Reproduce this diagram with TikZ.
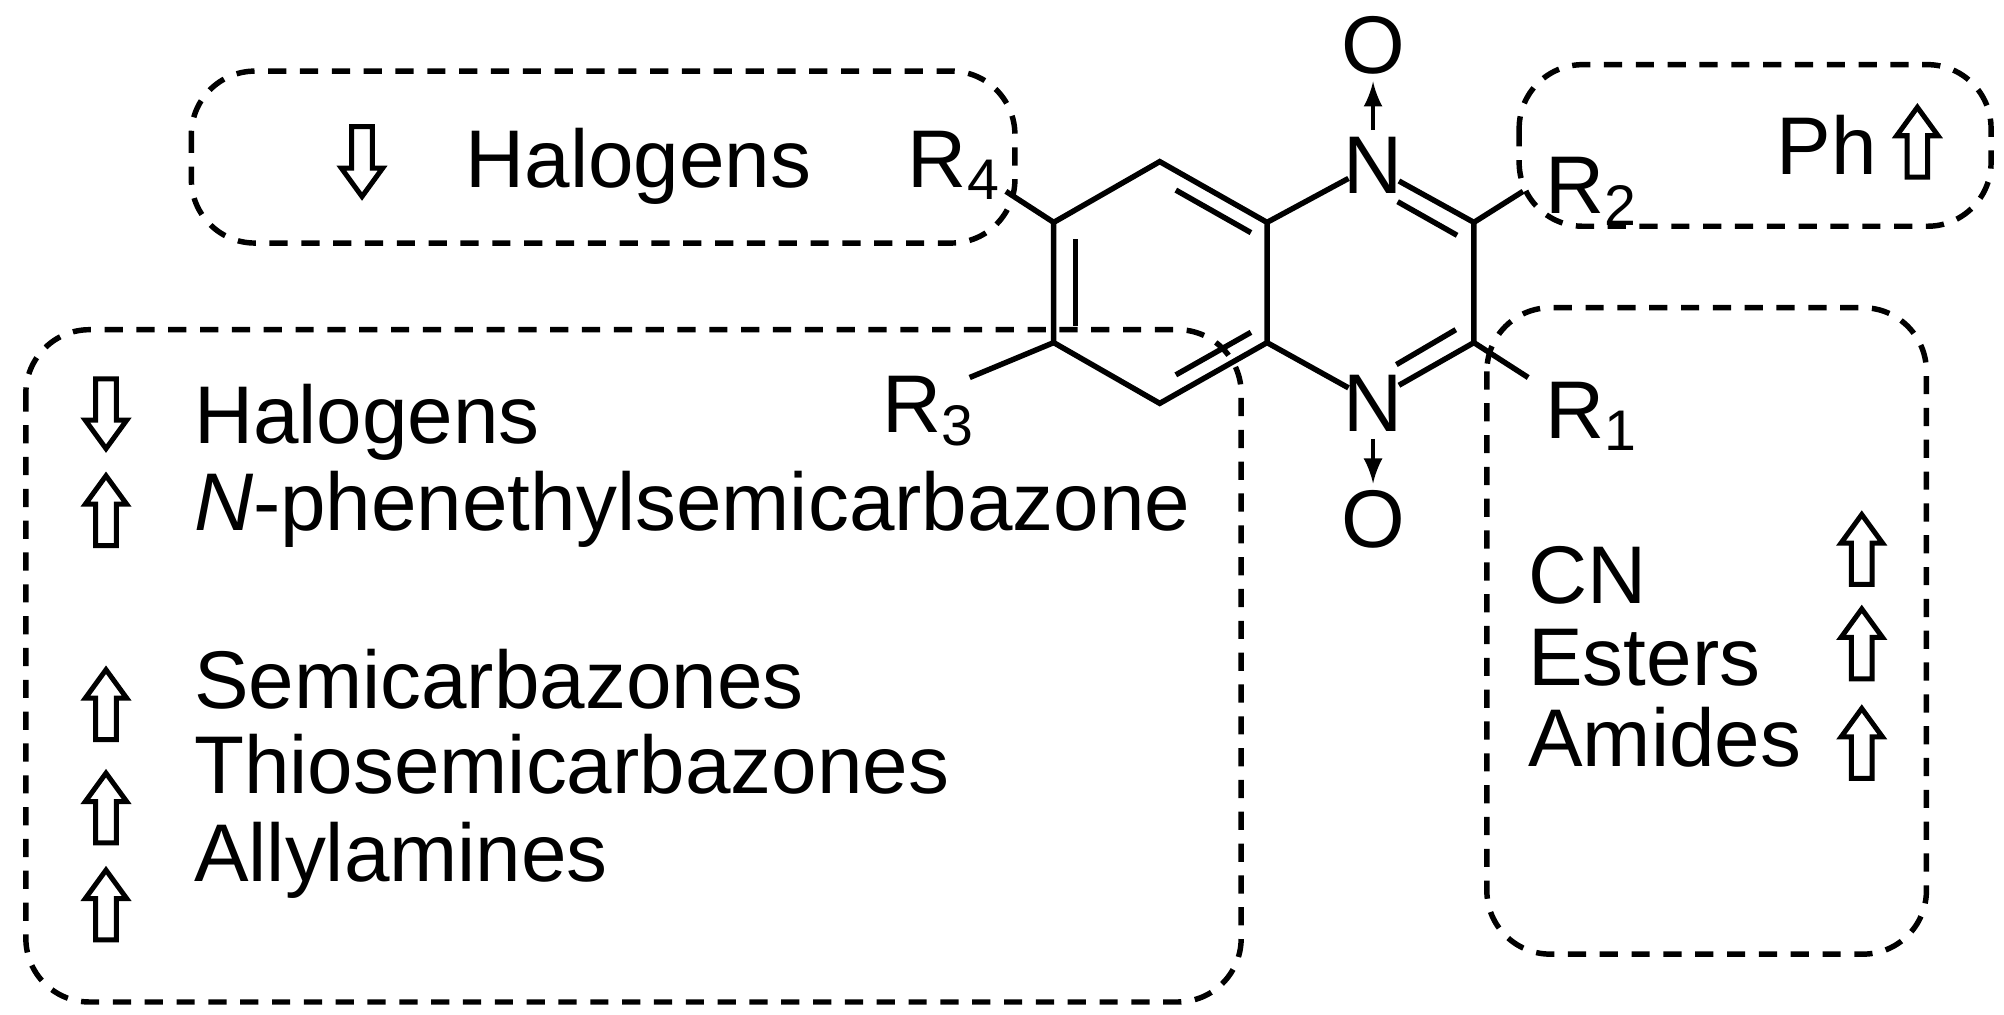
\documentclass[tikz,border=0pt]{standalone}
\usepackage{fontspec}
\setmainfont{Liberation Sans}
\usetikzlibrary{calc}
\begin{document}
\begin{tikzpicture}[x=0.01cm,y=-0.01cm,line width=1.2pt,
  box/.style={draw,line width=1.2pt,dash pattern=on 4pt off 3pt,rounded corners=14pt},
  lbl/.style={font=\fontsize{18}{20}\selectfont,inner sep=0pt,anchor=base west},
  atom/.style={font=\fontsize{18}{20}\selectfont,inner sep=1pt},
  hol/.style={draw,line width=1.1pt,fill=white}]
\useasboundingbox (0,0) rectangle (1550,785);
\def\uarr#1#2{\draw[hol] (#1-8,#2+27)--(#1+8,#2+27)--(#1+8,#2-5)--(#1+16,#2-5)--(#1,#2-27)--(#1-16,#2-5)--(#1-8,#2-5)--cycle;}
\def\darr#1#2{\draw[hol] (#1-8,#2-27)--(#1+8,#2-27)--(#1+8,#2+5)--(#1+16,#2+5)--(#1,#2+27)--(#1-16,#2+5)--(#1-8,#2+5)--cycle;}
% boxes
\draw[box] (148,55) rectangle (785,188);
\draw[box] (20,255) rectangle (960,775);
\draw[box] (1175,50) rectangle (1540,175);
\draw[box] (1150,238) rectangle (1490,738);
% ring
\coordinate (a) at (897,125); \coordinate (b) at (980,172); \coordinate (c) at (980,265);
\coordinate (d) at (897,312); \coordinate (e) at (815,265); \coordinate (f) at (815,172);
\node[atom] (N1) at (1062,128) {N};
\node[atom] (N4) at (1062,312) {N};
\coordinate (C2) at (1140,172); \coordinate (C3) at (1140,265);
\node[atom] (O1) at (1062,35) {O};
\node[atom] (O4) at (1062,402) {O};
\draw (a)--(b)--(c)--(d)--(e)--(f)--cycle;
\draw ($(a)!0.15!(b)+(0,15)$)--($(a)!0.85!(b)+(0,15)$);
\draw ($(d)!0.15!(c)+(0,-15)$)--($(d)!0.85!(c)+(0,-15)$);
\draw (832,185)--(832,252);
\draw (b)--(1043,138) (1082,140)--(C2)--(C3)--(1082,298) (1043,300)--(c);
\draw (1081,156)--(1127,182);
\draw (1126,255)--(1080,282);
\draw[-latex,line width=0.9pt] (N1.north)--(O1.south);
\draw[-latex,line width=0.9pt] (N4.south)--(O4.north);
\node[atom,anchor=west] (R2) at (1190,148) {R\textsubscript{2}};
\node[atom,anchor=west] (R1) at (1190,322) {R\textsubscript{1}};
\node[atom,anchor=east] (R4) at (780,128) {R\textsubscript{4}};
\node[atom,anchor=east] (R3) at (760,318) {R\textsubscript{3}};
\draw (C2)--(1178,148) (C3)--(1182,292) (f)--(778,148) (e)--(750,292);
% texts
\node[lbl] (t1) at (358,145) {Halogens}; \darr{280}{125}
\node[lbl] (t2) at (148,343) {Halogens}; \darr{82}{320}
\node[lbl] (t3) at (148,410) {\textit{N}-phenethylsemicarbazone}; \uarr{82}{395}
\node[lbl] (t4) at (148,548) {Semicarbazones}; \uarr{82}{545}
\node[lbl] (t5) at (148,614) {Thiosemicarbazones}; \uarr{82}{625}
\node[lbl] (t6) at (148,682) {Allylamines}; \uarr{82}{700}
\node[lbl] (t7) at (1372,135) {Ph}; \uarr{1483}{110}
\node[lbl] (t8) at (1180,467) {CN}; \uarr{1440}{425}
\node[lbl] (t9) at (1180,530) {Esters}; \uarr{1440}{498}
\node[lbl] (t10) at (1180,593) {Amides}; \uarr{1440}{575}
\end{tikzpicture}
\end{document}
